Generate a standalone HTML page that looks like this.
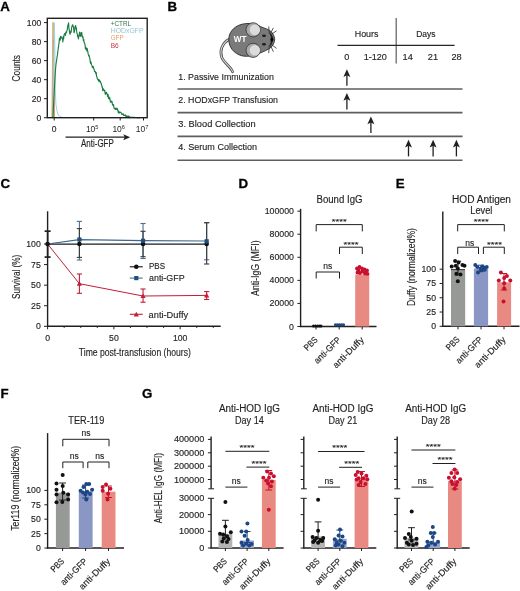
<!DOCTYPE html>
<html><head><meta charset="utf-8"><style>
html,body{margin:0;padding:0;background:#fff;}
svg{display:block;will-change:transform;}
text{font-family:"Liberation Sans",sans-serif;}
</style></head><body>
<svg width="520" height="591" viewBox="0 0 520 591" font-family="Liberation Sans, sans-serif">
<rect width="520" height="591" fill="#fff"/>
<text x="0.3" y="10.6" font-size="13.3" font-weight="bold" fill="#000" stroke="#000" stroke-width="0.3">A</text>
<text x="167.6" y="10.7" font-size="13.3" font-weight="bold" fill="#000" stroke="#000" stroke-width="0.3">B</text>
<text x="0.5" y="188.3" font-size="13.3" font-weight="bold" fill="#000" stroke="#000" stroke-width="0.3">C</text>
<text x="238.4" y="188.2" font-size="13.3" font-weight="bold" fill="#000" stroke="#000" stroke-width="0.3">D</text>
<text x="395.7" y="187.8" font-size="13.3" font-weight="bold" fill="#000" stroke="#000" stroke-width="0.3">E</text>
<text x="0.4" y="397.7" font-size="13.3" font-weight="bold" fill="#000" stroke="#000" stroke-width="0.3">F</text>
<text x="141.9" y="397.8" font-size="13.3" font-weight="bold" fill="#000" stroke="#000" stroke-width="0.3">G</text>
<polyline points="51.90,117.70 52.40,70.00 52.80,22.40 53.30,22.40 53.80,70.00 54.40,117.70" fill="#d8c393" stroke="#d8ad72" stroke-width="1.0" stroke-linejoin="round"/>
<polyline points="52.60,117.70 53.20,70.00 53.60,40.00 54.00,80.00 54.50,117.70" fill="none" stroke="#c06050" stroke-width="0.5" stroke-linejoin="round" opacity="0.5"/>
<polyline points="53.40,117.70 53.90,60.00 54.40,22.80 54.90,50.00 55.30,90.00 55.90,104.00 56.90,110.80 58.50,115.40 61.50,117.20 64.00,117.70" fill="none" stroke="#9fd4e4" stroke-width="1.0" stroke-linejoin="round"/>
<polyline points="53.00,117.70 53.40,108.85 53.80,100.00 54.20,92.50 54.60,85.00 54.95,78.50 55.30,72.00 55.65,68.30 56.00,64.32 56.34,61.72 56.68,60.20 57.02,56.96 57.36,55.38 57.70,52.79 58.04,49.77 58.38,47.97 58.72,44.70 59.06,42.81 59.40,38.51 59.70,38.02 60.00,38.92 60.30,40.11 60.60,36.44 60.97,36.28 61.33,37.46 61.70,38.27 62.10,37.81 62.50,38.18 62.90,41.90 63.27,36.64 63.63,39.04 64.00,35.37 64.36,34.17 64.72,33.50 65.08,33.78 65.44,35.45 65.80,32.10 66.17,33.06 66.53,32.51 66.90,30.54 67.30,29.78 67.70,26.11 68.10,24.56 68.60,22.91 68.90,27.89 69.20,29.68 69.80,33.78 70.10,34.10 70.40,32.64 70.70,31.09 71.00,32.40 71.37,30.44 71.73,26.91 72.10,26.83 72.40,24.91 72.70,24.75 73.15,26.41 73.60,26.77 74.00,32.71 74.40,31.82 74.80,29.09 75.20,26.53 75.65,25.57 76.10,28.75 76.40,27.95 76.70,31.89 77.00,33.49 77.30,33.82 77.67,36.69 78.03,35.75 78.40,38.96 78.80,36.58 79.20,34.58 79.60,32.11 79.90,34.67 80.20,36.01 80.50,34.81 80.80,36.52 81.10,32.50 81.40,33.95 81.70,32.35 82.10,35.92 82.50,37.22 82.80,36.25 83.10,38.10 83.40,40.74 83.73,39.25 84.07,42.53 84.40,42.59 84.73,43.72 85.07,44.81 85.40,49.07 85.75,47.12 86.10,47.89 86.45,48.76 86.80,50.84 87.15,48.34 87.50,50.02 87.83,51.55 88.15,53.93 88.47,54.87 88.80,56.21 89.15,55.45 89.50,57.30 89.85,58.44 90.20,61.68 90.53,63.30 90.85,61.74 91.17,63.18 91.50,64.74 91.85,65.27 92.20,66.70 92.55,67.60 92.90,66.95 93.23,66.46 93.57,68.41 93.90,68.68 94.23,69.84 94.57,71.68 94.90,71.19 95.23,71.46 95.57,72.72 95.90,73.83 96.23,72.49 96.57,76.44 96.90,76.91 97.25,78.45 97.60,79.37 97.95,79.11 98.30,80.34 98.63,79.57 98.97,81.78 99.30,80.02 99.63,80.34 99.97,81.15 100.30,81.28 100.60,82.82 100.90,82.69 101.20,83.40 101.50,84.84 101.80,85.57 102.10,87.41 102.40,87.09 102.74,90.57 103.08,90.06 103.41,88.81 103.75,89.61 104.09,90.38 104.42,90.86 104.76,90.42 105.10,93.46 105.40,94.35 105.70,92.83 106.00,93.28 106.30,92.22 106.60,92.66 106.90,93.90 107.20,94.00 107.50,96.41 107.80,94.38 108.13,94.55 108.47,98.56 108.80,97.70 109.13,96.99 109.47,99.09 109.80,97.90 110.13,100.15 110.47,102.22 110.80,102.26 111.13,102.11 111.47,100.99 111.80,101.82 112.10,101.69 112.40,104.45 112.70,104.17 113.00,105.65 113.30,104.62 113.60,104.82 113.90,107.52 114.24,108.57 114.58,108.52 114.91,108.78 115.25,109.25 115.59,109.39 115.92,107.97 116.26,109.44 116.60,109.28 116.90,108.33 117.20,108.55 117.50,109.67 117.80,109.82 118.10,111.60 118.40,112.78 118.70,111.17 119.00,113.15 119.30,112.58 119.60,112.75 119.90,112.03 120.20,112.02 120.50,112.25 120.80,112.43 121.10,112.66 121.40,113.55 121.70,114.22 122.00,114.34 122.32,113.93 122.63,114.37 122.95,114.76 123.26,113.78 123.58,114.86 123.89,115.42 124.21,115.38 124.52,115.49 124.84,115.22 125.15,114.90 125.47,116.04 125.78,115.47 126.10,116.38 126.40,116.75 126.70,115.93 127.00,116.04 127.30,117.01 127.60,116.76 127.90,115.97 128.20,116.00 128.50,116.14 128.80,117.45 129.10,117.39 129.40,116.43 129.70,117.62 130.00,117.20 130.32,117.22 130.63,117.23 130.95,117.25 131.27,117.27 131.58,117.28 131.90,117.30 132.22,117.32 132.53,117.33 132.85,117.35 133.17,117.37 133.48,117.38 133.80,117.40 134.12,117.42 134.43,117.43 134.75,117.45 135.07,117.47 135.38,117.48 135.70,117.50 136.01,117.51 136.31,117.53 136.62,117.54 136.93,117.56 137.24,117.57 137.54,117.59 137.85,117.60 138.16,117.61 138.46,117.63 138.77,117.64 139.08,117.66 139.39,117.67 139.69,117.69 140.00,117.70" fill="none" stroke="#1b7d43" stroke-width="1.15" stroke-linejoin="round"/>
<rect x="47.3" y="18.3" width="99.90" height="99.40" fill="none" stroke="#231f20" stroke-width="1.4"/>
<line x1="44.00" y1="117.70" x2="47.30" y2="117.70" stroke="#231f20" stroke-width="1.0"/>
<text x="0" y="0" transform="translate(41.20 120.70) scale(1 1.05)" font-size="8.6" fill="#231f20" stroke="#231f20" stroke-width="0.15" text-anchor="end">0</text>
<line x1="44.00" y1="98.68" x2="47.30" y2="98.68" stroke="#231f20" stroke-width="1.0"/>
<text x="0" y="0" transform="translate(41.20 101.68) scale(1 1.05)" font-size="8.6" fill="#231f20" stroke="#231f20" stroke-width="0.15" text-anchor="end">20</text>
<line x1="44.00" y1="79.66" x2="47.30" y2="79.66" stroke="#231f20" stroke-width="1.0"/>
<text x="0" y="0" transform="translate(41.20 82.66) scale(1 1.05)" font-size="8.6" fill="#231f20" stroke="#231f20" stroke-width="0.15" text-anchor="end">40</text>
<line x1="44.00" y1="60.64" x2="47.30" y2="60.64" stroke="#231f20" stroke-width="1.0"/>
<text x="0" y="0" transform="translate(41.20 63.64) scale(1 1.05)" font-size="8.6" fill="#231f20" stroke="#231f20" stroke-width="0.15" text-anchor="end">60</text>
<line x1="44.00" y1="41.62" x2="47.30" y2="41.62" stroke="#231f20" stroke-width="1.0"/>
<text x="0" y="0" transform="translate(41.20 44.62) scale(1 1.05)" font-size="8.6" fill="#231f20" stroke="#231f20" stroke-width="0.15" text-anchor="end">80</text>
<line x1="44.00" y1="22.60" x2="47.30" y2="22.60" stroke="#231f20" stroke-width="1.0"/>
<text x="0" y="0" transform="translate(41.20 25.60) scale(1 1.05)" font-size="8.6" fill="#231f20" stroke="#231f20" stroke-width="0.15" text-anchor="end">100</text>
<line x1="54.20" y1="117.70" x2="54.20" y2="120.50" stroke="#231f20" stroke-width="1.0"/>
<line x1="93.70" y1="117.70" x2="93.70" y2="120.50" stroke="#231f20" stroke-width="1.0"/>
<line x1="120.20" y1="117.70" x2="120.20" y2="120.50" stroke="#231f20" stroke-width="1.0"/>
<line x1="143.50" y1="117.70" x2="143.50" y2="120.50" stroke="#231f20" stroke-width="1.0"/>
<text x="54.20" y="131.80" font-size="8.5" fill="#231f20" stroke="#231f20" stroke-width="0.15" text-anchor="middle">0</text>
<text x="92.20" y="131.8" font-size="8.5" fill="#231f20" text-anchor="middle">10<tspan font-size="5.6" dy="-3.3">5</tspan></text>
<text x="118.70" y="131.8" font-size="8.5" fill="#231f20" text-anchor="middle">10<tspan font-size="5.6" dy="-3.3">6</tspan></text>
<text x="142.00" y="131.8" font-size="8.5" fill="#231f20" text-anchor="middle">10<tspan font-size="5.6" dy="-3.3">7</tspan></text>
<line x1="65.50" y1="137.20" x2="125.50" y2="137.20" stroke="#231f20" stroke-width="1.2"/>
<polygon points="130.2,137.2 123.2,134.2 124.8,137.2 123.2,140.2" fill="#231f20"/>
<text x="81.00" y="146.90" font-size="10.4" fill="#231f20" stroke="#231f20" stroke-width="0.15" textLength="32.8" lengthAdjust="spacingAndGlyphs">Anti-GFP</text>
<text x="0" y="0" transform="translate(19.50 68.20) rotate(-90)" font-size="10.4" fill="#231f20" stroke="#231f20" stroke-width="0.15" text-anchor="middle" textLength="26.4" lengthAdjust="spacingAndGlyphs">Counts</text>
<text x="110.70" y="25.60" font-size="7.4" fill="#2b7a45" textLength="20.5" lengthAdjust="spacingAndGlyphs">+CTRL</text>
<text x="110.70" y="32.90" font-size="7.4" fill="#94c4d8" textLength="33" lengthAdjust="spacingAndGlyphs">HODxGFP</text>
<text x="110.70" y="40.20" font-size="7.4" fill="#e9a062" textLength="13" lengthAdjust="spacingAndGlyphs">GFP</text>
<text x="110.70" y="47.50" font-size="7.4" fill="#cc3344" textLength="8" lengthAdjust="spacingAndGlyphs">B6</text>
<line x1="396.20" y1="18.00" x2="396.20" y2="63.50" stroke="#6a6a6a" stroke-width="1.3"/>
<line x1="337.50" y1="45.40" x2="454.60" y2="45.40" stroke="#262626" stroke-width="1.1"/>
<text x="366.60" y="37.00" font-size="9.2" fill="#231f20" stroke="#231f20" stroke-width="0.15" text-anchor="middle" textLength="23.7" lengthAdjust="spacingAndGlyphs">Hours</text>
<text x="425.80" y="37.00" font-size="9.2" fill="#231f20" stroke="#231f20" stroke-width="0.15" text-anchor="middle" textLength="19.3" lengthAdjust="spacingAndGlyphs">Days</text>
<text x="346.70" y="60.00" font-size="9.2" fill="#231f20" stroke="#231f20" stroke-width="0.15" text-anchor="middle">0</text>
<text x="375.30" y="60.00" font-size="9.2" fill="#231f20" stroke="#231f20" stroke-width="0.15" text-anchor="middle" textLength="23.3" lengthAdjust="spacingAndGlyphs">1-120</text>
<text x="407.70" y="60.00" font-size="9.2" fill="#231f20" stroke="#231f20" stroke-width="0.15" text-anchor="middle">14</text>
<text x="432.90" y="60.00" font-size="9.2" fill="#231f20" stroke="#231f20" stroke-width="0.15" text-anchor="middle">21</text>
<text x="456.50" y="60.00" font-size="9.2" fill="#231f20" stroke="#231f20" stroke-width="0.15" text-anchor="middle">28</text>
<text x="178.30" y="80.00" font-size="9.5" fill="#231f20" stroke="#231f20" stroke-width="0.15" textLength="95.6" lengthAdjust="spacingAndGlyphs">1. Passive Immunization</text>
<line x1="177.50" y1="89.00" x2="462.50" y2="89.00" stroke="#5e5e5e" stroke-width="1.6"/>
<text x="178.30" y="103.40" font-size="9.5" fill="#231f20" stroke="#231f20" stroke-width="0.15" textLength="99.7" lengthAdjust="spacingAndGlyphs">2. HODxGFP Transfusion</text>
<line x1="177.50" y1="112.60" x2="462.50" y2="112.60" stroke="#5e5e5e" stroke-width="1.6"/>
<text x="178.30" y="126.70" font-size="9.5" fill="#231f20" stroke="#231f20" stroke-width="0.15" textLength="77.3" lengthAdjust="spacingAndGlyphs">3. Blood Collection</text>
<line x1="177.50" y1="136.40" x2="462.50" y2="136.40" stroke="#5e5e5e" stroke-width="1.6"/>
<text x="178.30" y="150.10" font-size="9.5" fill="#231f20" stroke="#231f20" stroke-width="0.15" textLength="78.7" lengthAdjust="spacingAndGlyphs">4. Serum Collection</text>
<line x1="177.50" y1="160.20" x2="462.50" y2="160.20" stroke="#5e5e5e" stroke-width="1.6"/>
<line x1="346.90" y1="74.30" x2="346.90" y2="85.80" stroke="#231f20" stroke-width="1.3"/>
<polygon points="346.90,69.30 343.40,77.10 346.90,75.30 350.40,77.10" fill="#231f20"/>
<line x1="346.90" y1="98.00" x2="346.90" y2="109.50" stroke="#231f20" stroke-width="1.3"/>
<polygon points="346.90,93.00 343.40,100.80 346.90,99.00 350.40,100.80" fill="#231f20"/>
<line x1="370.90" y1="121.50" x2="370.90" y2="132.90" stroke="#231f20" stroke-width="1.3"/>
<polygon points="370.90,116.50 367.40,124.30 370.90,122.50 374.40,124.30" fill="#231f20"/>
<line x1="408.50" y1="144.70" x2="408.50" y2="156.40" stroke="#231f20" stroke-width="1.3"/>
<polygon points="408.50,139.70 405.00,147.50 408.50,145.70 412.00,147.50" fill="#231f20"/>
<line x1="433.10" y1="144.70" x2="433.10" y2="156.40" stroke="#231f20" stroke-width="1.3"/>
<polygon points="433.10,139.70 429.60,147.50 433.10,145.70 436.60,147.50" fill="#231f20"/>
<line x1="456.40" y1="144.70" x2="456.40" y2="156.40" stroke="#231f20" stroke-width="1.3"/>
<polygon points="456.40,139.70 452.90,147.50 456.40,145.70 459.90,147.50" fill="#231f20"/>
<g>
<path d="M228.8,39.5 C222.5,43 219.2,50.5 221.8,57.5 C224.2,63.5 230.5,66 232.6,71.8" fill="none" stroke="#4a4a4a" stroke-width="2.7" stroke-linecap="round"/>
<path d="M228.8,39.5 C222.5,43 219.2,50.5 221.8,57.5 C224.2,63.5 230.5,66 232.6,71.8" fill="none" stroke="#d6d6d6" stroke-width="1.1" stroke-linecap="round"/>
<path d="M274.7,39.3 C274.2,34.2 271,30.5 266.5,28.9 C263,27.8 261,26.8 258.5,25.5 C254,23.3 247,22.8 241,24.5 C233,27 228.6,33 228.8,40 C229,47.5 234,53.5 241.5,55.7 C248,57.2 255,55.5 260,53 C263,51.8 265.5,50.8 267,49.8 C271.5,47.8 274.2,44.5 274.7,39.3 Z" fill="#7a7a7a" stroke="#2a2a2a" stroke-width="0.9"/>
<path d="M269.3,32.6 Q277.2,39.3 269.3,46.2 Q272.6,39.3 269.3,32.6 Z" fill="#1c1c1c"/>
<circle cx="253.1" cy="29.8" r="7.1" fill="#a9a9a9" stroke="#333" stroke-width="0.8"/>
<circle cx="254.9" cy="29.8" r="5.2" fill="#dcdcdc"/>
<circle cx="253.1" cy="50.3" r="7.1" fill="#a9a9a9" stroke="#333" stroke-width="0.8"/>
<circle cx="254.9" cy="50.3" r="5.2" fill="#dcdcdc"/>
<ellipse cx="264" cy="35.7" rx="1.9" ry="1.3" fill="#1a1a1a"/>
<ellipse cx="264" cy="44.2" rx="1.9" ry="1.3" fill="#1a1a1a"/>
<circle cx="271.9" cy="39.4" r="1.5" fill="#000"/>
<line x1="269.30" y1="33.50" x2="268.70" y2="26.40" stroke="#222" stroke-width="0.75"/>
<line x1="270.30" y1="33.80" x2="273.40" y2="27.80" stroke="#222" stroke-width="0.75"/>
<line x1="271.20" y1="34.50" x2="276.50" y2="30.80" stroke="#222" stroke-width="0.75"/>
<line x1="269.30" y1="45.30" x2="268.70" y2="53.20" stroke="#222" stroke-width="0.75"/>
<line x1="270.30" y1="45.00" x2="273.40" y2="51.80" stroke="#222" stroke-width="0.75"/>
<line x1="271.20" y1="44.30" x2="276.50" y2="48.40" stroke="#222" stroke-width="0.75"/>
<text x="240.10" y="41.70" font-size="8.4" fill="#fff" text-anchor="middle" font-weight="bold" textLength="12.6" lengthAdjust="spacingAndGlyphs">WT</text>
</g>
<line x1="47.60" y1="211.30" x2="47.60" y2="326.90" stroke="#231f20" stroke-width="1.4"/>
<line x1="47.00" y1="326.30" x2="220.70" y2="326.30" stroke="#231f20" stroke-width="1.4"/>
<line x1="44.00" y1="326.30" x2="47.60" y2="326.30" stroke="#231f20" stroke-width="1.0"/>
<text x="0" y="0" transform="translate(40.80 329.30) scale(1 1.05)" font-size="8.7" fill="#231f20" stroke="#231f20" stroke-width="0.15" text-anchor="end">0</text>
<line x1="44.00" y1="305.73" x2="47.60" y2="305.73" stroke="#231f20" stroke-width="1.0"/>
<text x="0" y="0" transform="translate(40.80 308.73) scale(1 1.05)" font-size="8.7" fill="#231f20" stroke="#231f20" stroke-width="0.15" text-anchor="end">25</text>
<line x1="44.00" y1="285.16" x2="47.60" y2="285.16" stroke="#231f20" stroke-width="1.0"/>
<text x="0" y="0" transform="translate(40.80 288.16) scale(1 1.05)" font-size="8.7" fill="#231f20" stroke="#231f20" stroke-width="0.15" text-anchor="end">50</text>
<line x1="44.00" y1="264.59" x2="47.60" y2="264.59" stroke="#231f20" stroke-width="1.0"/>
<text x="0" y="0" transform="translate(40.80 267.59) scale(1 1.05)" font-size="8.7" fill="#231f20" stroke="#231f20" stroke-width="0.15" text-anchor="end">75</text>
<line x1="44.00" y1="244.02" x2="47.60" y2="244.02" stroke="#231f20" stroke-width="1.0"/>
<text x="0" y="0" transform="translate(40.80 247.02) scale(1 1.05)" font-size="8.7" fill="#231f20" stroke="#231f20" stroke-width="0.15" text-anchor="end">100</text>
<line x1="47.60" y1="326.30" x2="47.60" y2="329.30" stroke="#231f20" stroke-width="1.0"/>
<line x1="64.17" y1="326.30" x2="64.17" y2="327.90" stroke="#231f20" stroke-width="1.0"/>
<line x1="80.74" y1="326.30" x2="80.74" y2="327.90" stroke="#231f20" stroke-width="1.0"/>
<line x1="97.31" y1="326.30" x2="97.31" y2="327.90" stroke="#231f20" stroke-width="1.0"/>
<line x1="113.88" y1="326.30" x2="113.88" y2="329.30" stroke="#231f20" stroke-width="1.0"/>
<line x1="130.44" y1="326.30" x2="130.44" y2="327.90" stroke="#231f20" stroke-width="1.0"/>
<line x1="147.01" y1="326.30" x2="147.01" y2="327.90" stroke="#231f20" stroke-width="1.0"/>
<line x1="163.58" y1="326.30" x2="163.58" y2="327.90" stroke="#231f20" stroke-width="1.0"/>
<line x1="180.15" y1="326.30" x2="180.15" y2="329.30" stroke="#231f20" stroke-width="1.0"/>
<line x1="196.72" y1="326.30" x2="196.72" y2="327.90" stroke="#231f20" stroke-width="1.0"/>
<line x1="213.29" y1="326.30" x2="213.29" y2="327.90" stroke="#231f20" stroke-width="1.0"/>
<text x="0" y="0" transform="translate(47.60 341.00) scale(1 1.05)" font-size="8.7" fill="#231f20" stroke="#231f20" stroke-width="0.15" text-anchor="middle">0</text>
<text x="0" y="0" transform="translate(113.88 341.00) scale(1 1.05)" font-size="8.7" fill="#231f20" stroke="#231f20" stroke-width="0.15" text-anchor="middle">50</text>
<text x="0" y="0" transform="translate(180.15 341.00) scale(1 1.05)" font-size="8.7" fill="#231f20" stroke="#231f20" stroke-width="0.15" text-anchor="middle">100</text>
<text x="78.80" y="355.50" font-size="10.8" fill="#231f20" stroke="#231f20" stroke-width="0.15" textLength="112.0" lengthAdjust="spacingAndGlyphs">Time post-transfusion (hours)</text>
<text x="0" y="0" transform="translate(19.90 276.80) rotate(-90)" font-size="10.4" fill="#231f20" stroke="#231f20" stroke-width="0.15" text-anchor="middle" textLength="44.2" lengthAdjust="spacingAndGlyphs">Survival (%)</text>
<line x1="47.60" y1="231.20" x2="47.60" y2="257.10" stroke="#4d6f94" stroke-width="1.1"/>
<line x1="45.00" y1="231.20" x2="50.20" y2="231.20" stroke="#4d6f94" stroke-width="1.1"/>
<line x1="45.00" y1="257.10" x2="50.20" y2="257.10" stroke="#4d6f94" stroke-width="1.1"/>
<line x1="79.41" y1="221.40" x2="79.41" y2="260.00" stroke="#4d6f94" stroke-width="1.1"/>
<line x1="76.81" y1="221.40" x2="82.01" y2="221.40" stroke="#4d6f94" stroke-width="1.1"/>
<line x1="76.81" y1="260.00" x2="82.01" y2="260.00" stroke="#4d6f94" stroke-width="1.1"/>
<line x1="143.04" y1="223.50" x2="143.04" y2="258.50" stroke="#4d6f94" stroke-width="1.1"/>
<line x1="140.44" y1="223.50" x2="145.64" y2="223.50" stroke="#4d6f94" stroke-width="1.1"/>
<line x1="140.44" y1="258.50" x2="145.64" y2="258.50" stroke="#4d6f94" stroke-width="1.1"/>
<line x1="206.66" y1="222.70" x2="206.66" y2="259.80" stroke="#4d6f94" stroke-width="1.1"/>
<line x1="204.06" y1="222.70" x2="209.26" y2="222.70" stroke="#4d6f94" stroke-width="1.1"/>
<line x1="204.06" y1="259.80" x2="209.26" y2="259.80" stroke="#4d6f94" stroke-width="1.1"/>
<line x1="47.60" y1="231.20" x2="47.60" y2="257.10" stroke="#231f20" stroke-width="1.6"/>
<line x1="44.60" y1="231.20" x2="50.60" y2="231.20" stroke="#231f20" stroke-width="1.6"/>
<line x1="44.60" y1="257.10" x2="50.60" y2="257.10" stroke="#231f20" stroke-width="1.6"/>
<line x1="79.41" y1="228.60" x2="79.41" y2="257.40" stroke="#3a3a3a" stroke-width="1.1"/>
<line x1="76.81" y1="228.60" x2="82.01" y2="228.60" stroke="#3a3a3a" stroke-width="1.1"/>
<line x1="76.81" y1="257.40" x2="82.01" y2="257.40" stroke="#3a3a3a" stroke-width="1.1"/>
<line x1="143.04" y1="231.30" x2="143.04" y2="256.70" stroke="#3a3a3a" stroke-width="1.1"/>
<line x1="140.44" y1="231.30" x2="145.64" y2="231.30" stroke="#3a3a3a" stroke-width="1.1"/>
<line x1="140.44" y1="256.70" x2="145.64" y2="256.70" stroke="#3a3a3a" stroke-width="1.1"/>
<line x1="206.66" y1="222.70" x2="206.66" y2="264.00" stroke="#3a3a3a" stroke-width="1.1"/>
<line x1="204.06" y1="222.70" x2="209.26" y2="222.70" stroke="#3a3a3a" stroke-width="1.1"/>
<line x1="204.06" y1="264.00" x2="209.26" y2="264.00" stroke="#3a3a3a" stroke-width="1.1"/>
<line x1="79.41" y1="274.00" x2="79.41" y2="293.30" stroke="#c01f38" stroke-width="1.1"/>
<line x1="76.81" y1="274.00" x2="82.01" y2="274.00" stroke="#c01f38" stroke-width="1.1"/>
<line x1="76.81" y1="293.30" x2="82.01" y2="293.30" stroke="#c01f38" stroke-width="1.1"/>
<line x1="143.04" y1="289.00" x2="143.04" y2="302.20" stroke="#c01f38" stroke-width="1.1"/>
<line x1="140.44" y1="289.00" x2="145.64" y2="289.00" stroke="#c01f38" stroke-width="1.1"/>
<line x1="140.44" y1="302.20" x2="145.64" y2="302.20" stroke="#c01f38" stroke-width="1.1"/>
<line x1="206.66" y1="291.60" x2="206.66" y2="299.50" stroke="#c01f38" stroke-width="1.1"/>
<line x1="204.06" y1="291.60" x2="209.26" y2="291.60" stroke="#c01f38" stroke-width="1.1"/>
<line x1="204.06" y1="299.50" x2="209.26" y2="299.50" stroke="#c01f38" stroke-width="1.1"/>
<polyline points="47.60,244.10 79.41,244.10 143.04,244.10 206.66,244.10" fill="none" stroke="#1a1a1a" stroke-width="1.2" stroke-linejoin="round"/>
<polyline points="47.60,244.00 79.41,239.60 143.04,240.70 206.66,241.00" fill="none" stroke="#3e6890" stroke-width="1.2" stroke-linejoin="round"/>
<polyline points="47.60,244.00 79.41,283.70 143.04,296.00 206.66,295.40" fill="none" stroke="#c01f38" stroke-width="1.0" stroke-linejoin="round"/>
<circle cx="47.60" cy="244" r="2.3" fill="#111"/>
<circle cx="79.41" cy="244" r="2.3" fill="#111"/>
<circle cx="143.04" cy="244" r="2.3" fill="#111"/>
<circle cx="206.66" cy="244" r="2.3" fill="#111"/>
<rect x="77.31" y="237.40" width="4.2" height="4.2" fill="#1f4e80"/>
<rect x="140.94" y="238.70" width="4.2" height="4.2" fill="#1f4e80"/>
<rect x="204.56" y="239.20" width="4.2" height="4.2" fill="#1f4e80"/>
<polygon points="79.41,281.10 76.81,285.78 82.01,285.78" fill="#c01f38"/>
<polygon points="143.04,293.40 140.44,298.08 145.64,298.08" fill="#c01f38"/>
<polygon points="206.66,292.80 204.06,297.48 209.26,297.48" fill="#c01f38"/>
<line x1="129.80" y1="266.80" x2="142.70" y2="266.80" stroke="#111" stroke-width="1.1"/>
<circle cx="136.3" cy="266.8" r="2.3" fill="#111"/>
<text x="149.00" y="268.70" font-size="9.3" fill="#231f20" stroke="#231f20" stroke-width="0.15" textLength="16" lengthAdjust="spacingAndGlyphs">PBS</text>
<line x1="129.80" y1="278.10" x2="142.70" y2="278.10" stroke="#4d6f94" stroke-width="1.1"/>
<rect x="134.2" y="276.0" width="4.2" height="4.2" fill="#1f4e80"/>
<text x="149.00" y="281.20" font-size="9.3" fill="#231f20" stroke="#231f20" stroke-width="0.15" textLength="35.6" lengthAdjust="spacingAndGlyphs">anti-GFP</text>
<line x1="129.80" y1="314.30" x2="142.70" y2="314.30" stroke="#c01f38" stroke-width="1.1"/>
<polygon points="136.30,311.70 133.70,316.38 138.90,316.38" fill="#c01f38"/>
<text x="148.60" y="318.00" font-size="9.3" fill="#231f20" stroke="#231f20" stroke-width="0.15" textLength="39.5" lengthAdjust="spacingAndGlyphs">anti-Duffy</text>
<line x1="300.60" y1="208.80" x2="300.60" y2="327.10" stroke="#231f20" stroke-width="1.4"/>
<line x1="300.00" y1="326.50" x2="376.50" y2="326.50" stroke="#231f20" stroke-width="1.4"/>
<line x1="297.40" y1="326.50" x2="300.60" y2="326.50" stroke="#231f20" stroke-width="1.0"/>
<text x="0" y="0" transform="translate(294.00 329.50) scale(1 1.03)" font-size="8.8" fill="#231f20" stroke="#231f20" stroke-width="0.15" text-anchor="end">0</text>
<line x1="297.40" y1="303.43" x2="300.60" y2="303.43" stroke="#231f20" stroke-width="1.0"/>
<text x="0" y="0" transform="translate(294.00 306.43) scale(1 1.03)" font-size="8.8" fill="#231f20" stroke="#231f20" stroke-width="0.15" text-anchor="end">20000</text>
<line x1="297.40" y1="280.36" x2="300.60" y2="280.36" stroke="#231f20" stroke-width="1.0"/>
<text x="0" y="0" transform="translate(294.00 283.36) scale(1 1.03)" font-size="8.8" fill="#231f20" stroke="#231f20" stroke-width="0.15" text-anchor="end">40000</text>
<line x1="297.40" y1="257.29" x2="300.60" y2="257.29" stroke="#231f20" stroke-width="1.0"/>
<text x="0" y="0" transform="translate(294.00 260.29) scale(1 1.03)" font-size="8.8" fill="#231f20" stroke="#231f20" stroke-width="0.15" text-anchor="end">60000</text>
<line x1="297.40" y1="234.22" x2="300.60" y2="234.22" stroke="#231f20" stroke-width="1.0"/>
<text x="0" y="0" transform="translate(294.00 237.22) scale(1 1.03)" font-size="8.8" fill="#231f20" stroke="#231f20" stroke-width="0.15" text-anchor="end">80000</text>
<line x1="297.40" y1="211.15" x2="300.60" y2="211.15" stroke="#231f20" stroke-width="1.0"/>
<text x="0" y="0" transform="translate(294.00 214.15) scale(1 1.03)" font-size="8.8" fill="#231f20" stroke="#231f20" stroke-width="0.15" text-anchor="end">100000</text>
<line x1="316.00" y1="326.50" x2="316.00" y2="329.50" stroke="#231f20" stroke-width="1.0"/>
<line x1="339.20" y1="326.50" x2="339.20" y2="329.50" stroke="#231f20" stroke-width="1.0"/>
<line x1="362.20" y1="326.50" x2="362.20" y2="329.50" stroke="#231f20" stroke-width="1.0"/>
<rect x="355.2" y="274.5" width="14" height="52.00" fill="#e98a82"/>
<circle cx="313.50" cy="326.00" r="1.5" fill="#111"/>
<circle cx="315.50" cy="326.00" r="1.5" fill="#111"/>
<circle cx="317.50" cy="326.00" r="1.5" fill="#111"/>
<circle cx="319.50" cy="326.00" r="1.5" fill="#111"/>
<circle cx="321.00" cy="326.00" r="1.5" fill="#111"/>
<circle cx="335.50" cy="324.80" r="1.6" fill="#1d4683"/>
<circle cx="337.50" cy="324.80" r="1.6" fill="#1d4683"/>
<circle cx="339.50" cy="324.80" r="1.6" fill="#1d4683"/>
<circle cx="341.50" cy="324.80" r="1.6" fill="#1d4683"/>
<circle cx="343.50" cy="324.80" r="1.6" fill="#1d4683"/>
<circle cx="357.00" cy="268.50" r="1.9" fill="#c8102e"/>
<circle cx="359.50" cy="267.00" r="1.9" fill="#c8102e"/>
<circle cx="362.00" cy="268.50" r="1.9" fill="#c8102e"/>
<circle cx="364.50" cy="269.50" r="1.9" fill="#c8102e"/>
<circle cx="367.00" cy="270.50" r="1.9" fill="#c8102e"/>
<circle cx="357.50" cy="272.50" r="1.9" fill="#c8102e"/>
<circle cx="360.00" cy="273.00" r="1.9" fill="#c8102e"/>
<circle cx="362.50" cy="271.50" r="1.9" fill="#c8102e"/>
<circle cx="365.00" cy="273.50" r="1.9" fill="#c8102e"/>
<circle cx="367.50" cy="273.80" r="1.9" fill="#c8102e"/>
<circle cx="358.50" cy="270.50" r="1.9" fill="#c8102e"/>
<circle cx="366.00" cy="271.00" r="1.9" fill="#c8102e"/>
<polyline points="316.20,231.40 316.20,224.60 362.30,224.60 362.30,231.40" fill="none" stroke="#231f20" stroke-width="1.0"/>
<text x="339.20" y="224.00" font-size="8.0" fill="#231f20" stroke="#231f20" stroke-width="0.15" text-anchor="middle" textLength="15.0" lengthAdjust="spacingAndGlyphs">****</text>
<polyline points="339.50,254.00 339.50,247.20 362.30,247.20 362.30,254.00" fill="none" stroke="#231f20" stroke-width="1.0"/>
<text x="350.90" y="246.60" font-size="8.0" fill="#231f20" stroke="#231f20" stroke-width="0.15" text-anchor="middle" textLength="15.0" lengthAdjust="spacingAndGlyphs">****</text>
<polyline points="316.20,278.50 316.20,272.00 339.50,272.00 339.50,278.50" fill="none" stroke="#231f20" stroke-width="1.0"/>
<text x="327.80" y="268.70" font-size="8.5" fill="#231f20" stroke="#231f20" stroke-width="0.15" text-anchor="middle">ns</text>
<text x="339.50" y="202.90" font-size="10.0" fill="#231f20" stroke="#231f20" stroke-width="0.15" text-anchor="middle" textLength="46" lengthAdjust="spacingAndGlyphs">Bound IgG</text>
<text x="0" y="0" transform="translate(259.30 268.20) rotate(-90)" font-size="10.4" fill="#231f20" stroke="#231f20" stroke-width="0.15" text-anchor="middle" textLength="55.5" lengthAdjust="spacingAndGlyphs">Anti-IgG (MFI)</text>
<text x="0" y="0" transform="translate(318.30 340.40) rotate(-45)" font-size="9.1" fill="#231f20" stroke="#231f20" stroke-width="0.15" text-anchor="end" textLength="15.2" lengthAdjust="spacingAndGlyphs">PBS</text>
<text x="0" y="0" transform="translate(341.50 340.40) rotate(-45)" font-size="9.1" fill="#231f20" stroke="#231f20" stroke-width="0.15" text-anchor="end" textLength="33.9" lengthAdjust="spacingAndGlyphs">anti-GFP</text>
<text x="0" y="0" transform="translate(364.50 340.40) rotate(-45)" font-size="9.1" fill="#231f20" stroke="#231f20" stroke-width="0.15" text-anchor="end" textLength="40.0" lengthAdjust="spacingAndGlyphs">anti-Duffy</text>
<line x1="442.80" y1="211.40" x2="442.80" y2="326.90" stroke="#231f20" stroke-width="1.4"/>
<line x1="442.20" y1="326.30" x2="519.50" y2="326.30" stroke="#231f20" stroke-width="1.4"/>
<line x1="439.60" y1="326.30" x2="442.80" y2="326.30" stroke="#231f20" stroke-width="1.0"/>
<text x="0" y="0" transform="translate(436.00 329.30) scale(1 1.05)" font-size="8.7" fill="#231f20" stroke="#231f20" stroke-width="0.15" text-anchor="end">0</text>
<line x1="439.60" y1="312.03" x2="442.80" y2="312.03" stroke="#231f20" stroke-width="1.0"/>
<text x="0" y="0" transform="translate(436.00 315.03) scale(1 1.05)" font-size="8.7" fill="#231f20" stroke="#231f20" stroke-width="0.15" text-anchor="end">25</text>
<line x1="439.60" y1="297.75" x2="442.80" y2="297.75" stroke="#231f20" stroke-width="1.0"/>
<text x="0" y="0" transform="translate(436.00 300.75) scale(1 1.05)" font-size="8.7" fill="#231f20" stroke="#231f20" stroke-width="0.15" text-anchor="end">50</text>
<line x1="439.60" y1="283.48" x2="442.80" y2="283.48" stroke="#231f20" stroke-width="1.0"/>
<text x="0" y="0" transform="translate(436.00 286.48) scale(1 1.05)" font-size="8.7" fill="#231f20" stroke="#231f20" stroke-width="0.15" text-anchor="end">75</text>
<line x1="439.60" y1="269.20" x2="442.80" y2="269.20" stroke="#231f20" stroke-width="1.0"/>
<text x="0" y="0" transform="translate(436.00 272.20) scale(1 1.05)" font-size="8.7" fill="#231f20" stroke="#231f20" stroke-width="0.15" text-anchor="end">100</text>
<line x1="458.00" y1="326.30" x2="458.00" y2="329.30" stroke="#231f20" stroke-width="1.0"/>
<line x1="481.00" y1="326.30" x2="481.00" y2="329.30" stroke="#231f20" stroke-width="1.0"/>
<line x1="504.00" y1="326.30" x2="504.00" y2="329.30" stroke="#231f20" stroke-width="1.0"/>
<rect x="451.0" y="269.6" width="14.2" height="56.70" fill="#979997"/>
<rect x="473.9" y="268.6" width="14.2" height="57.70" fill="#8a96c4"/>
<rect x="497.1" y="282.3" width="14.0" height="44.00" fill="#e98a82"/>
<line x1="458.00" y1="261.20" x2="458.00" y2="275.00" stroke="#231f20" stroke-width="1.0"/>
<line x1="454.80" y1="261.20" x2="461.20" y2="261.20" stroke="#231f20" stroke-width="1.0"/>
<line x1="454.80" y1="275.00" x2="461.20" y2="275.00" stroke="#231f20" stroke-width="1.0"/>
<line x1="481.00" y1="265.20" x2="481.00" y2="271.00" stroke="#1d4683" stroke-width="1.0"/>
<line x1="477.80" y1="265.20" x2="484.20" y2="265.20" stroke="#1d4683" stroke-width="1.0"/>
<line x1="477.80" y1="271.00" x2="484.20" y2="271.00" stroke="#1d4683" stroke-width="1.0"/>
<line x1="504.00" y1="273.50" x2="504.00" y2="290.00" stroke="#c8102e" stroke-width="1.0"/>
<line x1="500.80" y1="273.50" x2="507.20" y2="273.50" stroke="#c8102e" stroke-width="1.0"/>
<line x1="500.80" y1="290.00" x2="507.20" y2="290.00" stroke="#c8102e" stroke-width="1.0"/>
<line x1="451.00" y1="269.60" x2="465.00" y2="269.60" stroke="#231f20" stroke-width="0.9"/>
<circle cx="455.10" cy="261.10" r="2.0" fill="#111"/>
<circle cx="458.50" cy="262.40" r="2.0" fill="#111"/>
<circle cx="451.70" cy="266.40" r="2.0" fill="#111"/>
<circle cx="455.80" cy="265.80" r="2.0" fill="#111"/>
<circle cx="462.50" cy="265.10" r="2.0" fill="#111"/>
<circle cx="464.50" cy="265.80" r="2.0" fill="#111"/>
<circle cx="457.80" cy="268.50" r="2.0" fill="#111"/>
<circle cx="456.40" cy="273.80" r="2.0" fill="#111"/>
<circle cx="460.50" cy="274.50" r="2.0" fill="#111"/>
<circle cx="457.80" cy="281.20" r="2.0" fill="#111"/>
<circle cx="475.30" cy="265.10" r="2.0" fill="#1d4683"/>
<circle cx="477.30" cy="267.10" r="2.0" fill="#1d4683"/>
<circle cx="480.70" cy="268.50" r="2.0" fill="#1d4683"/>
<circle cx="484.00" cy="267.80" r="2.0" fill="#1d4683"/>
<circle cx="486.70" cy="267.10" r="2.0" fill="#1d4683"/>
<circle cx="478.00" cy="272.50" r="2.0" fill="#1d4683"/>
<circle cx="481.30" cy="270.50" r="2.0" fill="#1d4683"/>
<circle cx="484.70" cy="269.80" r="2.0" fill="#1d4683"/>
<circle cx="482.50" cy="266.50" r="2.0" fill="#1d4683"/>
<circle cx="500.90" cy="272.50" r="2.0" fill="#c8102e"/>
<circle cx="506.90" cy="275.90" r="2.0" fill="#c8102e"/>
<circle cx="504.20" cy="277.90" r="2.0" fill="#c8102e"/>
<circle cx="498.80" cy="280.60" r="2.0" fill="#c8102e"/>
<circle cx="510.30" cy="280.60" r="2.0" fill="#c8102e"/>
<circle cx="504.20" cy="283.30" r="2.0" fill="#c8102e"/>
<circle cx="504.20" cy="288.60" r="2.0" fill="#c8102e"/>
<circle cx="503.50" cy="301.40" r="2.0" fill="#c8102e"/>
<polyline points="457.70,231.40 457.70,224.60 504.30,224.60 504.30,231.40" fill="none" stroke="#231f20" stroke-width="1.0"/>
<text x="481.30" y="224.00" font-size="8.0" fill="#231f20" stroke="#231f20" stroke-width="0.15" text-anchor="middle" textLength="15.0" lengthAdjust="spacingAndGlyphs">****</text>
<polyline points="457.70,254.00 457.70,247.20 478.50,247.20 478.50,254.00" fill="none" stroke="#231f20" stroke-width="1.0"/>
<text x="469.80" y="245.50" font-size="8.5" fill="#231f20" stroke="#231f20" stroke-width="0.15" text-anchor="middle">ns</text>
<polyline points="483.40,254.00 483.40,247.20 504.30,247.20 504.30,254.00" fill="none" stroke="#231f20" stroke-width="1.0"/>
<text x="494.50" y="246.60" font-size="8.0" fill="#231f20" stroke="#231f20" stroke-width="0.15" text-anchor="middle" textLength="15.0" lengthAdjust="spacingAndGlyphs">****</text>
<text x="481.50" y="202.80" font-size="10.0" fill="#231f20" stroke="#231f20" stroke-width="0.15" text-anchor="middle" textLength="59" lengthAdjust="spacingAndGlyphs">HOD Antigen</text>
<text x="481.30" y="213.60" font-size="10.0" fill="#231f20" stroke="#231f20" stroke-width="0.15" text-anchor="middle" textLength="22" lengthAdjust="spacingAndGlyphs">Level</text>
<text x="0" y="0" transform="translate(414.80 267.00) rotate(-90)" font-size="10.4" fill="#231f20" stroke="#231f20" stroke-width="0.15" text-anchor="middle" textLength="78" lengthAdjust="spacingAndGlyphs">Duffy (normalized%)</text>
<text x="0" y="0" transform="translate(460.30 340.20) rotate(-45)" font-size="9.1" fill="#231f20" stroke="#231f20" stroke-width="0.15" text-anchor="end" textLength="15.2" lengthAdjust="spacingAndGlyphs">PBS</text>
<text x="0" y="0" transform="translate(483.30 340.20) rotate(-45)" font-size="9.1" fill="#231f20" stroke="#231f20" stroke-width="0.15" text-anchor="end" textLength="33.9" lengthAdjust="spacingAndGlyphs">anti-GFP</text>
<text x="0" y="0" transform="translate(506.30 340.20) rotate(-45)" font-size="9.1" fill="#231f20" stroke="#231f20" stroke-width="0.15" text-anchor="end" textLength="40.0" lengthAdjust="spacingAndGlyphs">anti-Duffy</text>
<line x1="47.60" y1="433.10" x2="47.60" y2="548.60" stroke="#231f20" stroke-width="1.4"/>
<line x1="47.00" y1="548.00" x2="124.00" y2="548.00" stroke="#231f20" stroke-width="1.4"/>
<line x1="44.40" y1="548.00" x2="47.60" y2="548.00" stroke="#231f20" stroke-width="1.0"/>
<text x="0" y="0" transform="translate(40.80 551.00) scale(1 1.05)" font-size="8.7" fill="#231f20" stroke="#231f20" stroke-width="0.15" text-anchor="end">0</text>
<line x1="44.40" y1="533.60" x2="47.60" y2="533.60" stroke="#231f20" stroke-width="1.0"/>
<text x="0" y="0" transform="translate(40.80 536.60) scale(1 1.05)" font-size="8.7" fill="#231f20" stroke="#231f20" stroke-width="0.15" text-anchor="end">25</text>
<line x1="44.40" y1="519.20" x2="47.60" y2="519.20" stroke="#231f20" stroke-width="1.0"/>
<text x="0" y="0" transform="translate(40.80 522.20) scale(1 1.05)" font-size="8.7" fill="#231f20" stroke="#231f20" stroke-width="0.15" text-anchor="end">50</text>
<line x1="44.40" y1="504.80" x2="47.60" y2="504.80" stroke="#231f20" stroke-width="1.0"/>
<text x="0" y="0" transform="translate(40.80 507.80) scale(1 1.05)" font-size="8.7" fill="#231f20" stroke="#231f20" stroke-width="0.15" text-anchor="end">75</text>
<line x1="44.40" y1="490.40" x2="47.60" y2="490.40" stroke="#231f20" stroke-width="1.0"/>
<text x="0" y="0" transform="translate(40.80 493.40) scale(1 1.05)" font-size="8.7" fill="#231f20" stroke="#231f20" stroke-width="0.15" text-anchor="end">100</text>
<line x1="62.60" y1="548.00" x2="62.60" y2="551.00" stroke="#231f20" stroke-width="1.0"/>
<line x1="85.60" y1="548.00" x2="85.60" y2="551.00" stroke="#231f20" stroke-width="1.0"/>
<line x1="108.50" y1="548.00" x2="108.50" y2="551.00" stroke="#231f20" stroke-width="1.0"/>
<rect x="55.9" y="492.7" width="13.8" height="55.30" fill="#979997"/>
<rect x="78.8" y="491.3" width="13.8" height="56.70" fill="#8a96c4"/>
<rect x="101.7" y="491.7" width="13.8" height="56.30" fill="#e98a82"/>
<line x1="62.60" y1="483.00" x2="62.60" y2="500.00" stroke="#231f20" stroke-width="1.0"/>
<line x1="59.20" y1="483.00" x2="66.00" y2="483.00" stroke="#231f20" stroke-width="1.0"/>
<line x1="59.20" y1="500.00" x2="66.00" y2="500.00" stroke="#231f20" stroke-width="1.0"/>
<line x1="85.60" y1="485.00" x2="85.60" y2="498.00" stroke="#1d4683" stroke-width="1.0"/>
<line x1="82.20" y1="485.00" x2="89.00" y2="485.00" stroke="#1d4683" stroke-width="1.0"/>
<line x1="82.20" y1="498.00" x2="89.00" y2="498.00" stroke="#1d4683" stroke-width="1.0"/>
<line x1="108.50" y1="486.00" x2="108.50" y2="497.50" stroke="#c8102e" stroke-width="1.0"/>
<line x1="105.10" y1="486.00" x2="111.90" y2="486.00" stroke="#c8102e" stroke-width="1.0"/>
<line x1="105.10" y1="497.50" x2="111.90" y2="497.50" stroke="#c8102e" stroke-width="1.0"/>
<circle cx="62.70" cy="475.00" r="2.0" fill="#111"/>
<circle cx="56.50" cy="483.50" r="2.0" fill="#111"/>
<circle cx="62.70" cy="486.00" r="2.0" fill="#111"/>
<circle cx="56.50" cy="489.80" r="2.0" fill="#111"/>
<circle cx="68.10" cy="494.60" r="2.0" fill="#111"/>
<circle cx="63.30" cy="492.70" r="2.0" fill="#111"/>
<circle cx="56.50" cy="494.60" r="2.0" fill="#111"/>
<circle cx="68.10" cy="499.40" r="2.0" fill="#111"/>
<circle cx="56.50" cy="502.30" r="2.0" fill="#111"/>
<circle cx="62.30" cy="501.90" r="2.0" fill="#111"/>
<circle cx="86.30" cy="484.00" r="2.0" fill="#1d4683"/>
<circle cx="89.20" cy="484.00" r="2.0" fill="#1d4683"/>
<circle cx="83.50" cy="486.90" r="2.0" fill="#1d4683"/>
<circle cx="80.60" cy="490.80" r="2.0" fill="#1d4683"/>
<circle cx="92.10" cy="489.80" r="2.0" fill="#1d4683"/>
<circle cx="87.30" cy="491.70" r="2.0" fill="#1d4683"/>
<circle cx="85.40" cy="494.60" r="2.0" fill="#1d4683"/>
<circle cx="86.30" cy="499.40" r="2.0" fill="#1d4683"/>
<circle cx="83.00" cy="492.50" r="2.0" fill="#1d4683"/>
<circle cx="90.00" cy="494.00" r="2.0" fill="#1d4683"/>
<circle cx="106.00" cy="484.60" r="2.0" fill="#c8102e"/>
<circle cx="102.70" cy="486.90" r="2.0" fill="#c8102e"/>
<circle cx="110.40" cy="488.80" r="2.0" fill="#c8102e"/>
<circle cx="102.70" cy="490.80" r="2.0" fill="#c8102e"/>
<circle cx="108.10" cy="493.70" r="2.0" fill="#c8102e"/>
<circle cx="107.50" cy="499.40" r="2.0" fill="#c8102e"/>
<polyline points="62.80,446.30 62.80,439.30 109.00,439.30 109.00,446.30" fill="none" stroke="#231f20" stroke-width="1.0"/>
<text x="86.00" y="435.90" font-size="8.5" fill="#231f20" stroke="#231f20" stroke-width="0.15" text-anchor="middle">ns</text>
<polyline points="62.80,468.20 62.80,462.00 83.10,462.00 83.10,468.20" fill="none" stroke="#231f20" stroke-width="1.0"/>
<text x="74.30" y="458.50" font-size="8.5" fill="#231f20" stroke="#231f20" stroke-width="0.15" text-anchor="middle">ns</text>
<polyline points="87.80,468.20 87.80,462.00 109.00,462.00 109.00,468.20" fill="none" stroke="#231f20" stroke-width="1.0"/>
<text x="99.80" y="458.50" font-size="8.5" fill="#231f20" stroke="#231f20" stroke-width="0.15" text-anchor="middle">ns</text>
<text x="86.30" y="423.80" font-size="10.0" fill="#231f20" stroke="#231f20" stroke-width="0.15" text-anchor="middle" textLength="36" lengthAdjust="spacingAndGlyphs">TER-119</text>
<text x="0" y="0" transform="translate(19.10 488.30) rotate(-90)" font-size="10.4" fill="#231f20" stroke="#231f20" stroke-width="0.15" text-anchor="middle" textLength="85" lengthAdjust="spacingAndGlyphs">Ter119 (normalized%)</text>
<text x="0" y="0" transform="translate(64.90 561.90) rotate(-45)" font-size="9.1" fill="#231f20" stroke="#231f20" stroke-width="0.15" text-anchor="end" textLength="15.2" lengthAdjust="spacingAndGlyphs">PBS</text>
<text x="0" y="0" transform="translate(87.90 561.90) rotate(-45)" font-size="9.1" fill="#231f20" stroke="#231f20" stroke-width="0.15" text-anchor="end" textLength="33.9" lengthAdjust="spacingAndGlyphs">anti-GFP</text>
<text x="0" y="0" transform="translate(110.80 561.90) rotate(-45)" font-size="9.1" fill="#231f20" stroke="#231f20" stroke-width="0.15" text-anchor="end" textLength="40.0" lengthAdjust="spacingAndGlyphs">anti-Duffy</text>
<text x="0" y="0" transform="translate(204.30 442.40) scale(1 1.05)" font-size="9.1" fill="#231f20" stroke="#231f20" stroke-width="0.15" text-anchor="end">400000</text>
<text x="0" y="0" transform="translate(204.30 455.80) scale(1 1.05)" font-size="9.1" fill="#231f20" stroke="#231f20" stroke-width="0.15" text-anchor="end">300000</text>
<text x="0" y="0" transform="translate(204.30 469.20) scale(1 1.05)" font-size="9.1" fill="#231f20" stroke="#231f20" stroke-width="0.15" text-anchor="end">200000</text>
<text x="0" y="0" transform="translate(204.30 482.50) scale(1 1.05)" font-size="9.1" fill="#231f20" stroke="#231f20" stroke-width="0.15" text-anchor="end">100000</text>
<text x="0" y="0" transform="translate(204.30 501.30) scale(1 1.05)" font-size="9.1" fill="#231f20" stroke="#231f20" stroke-width="0.15" text-anchor="end">30000</text>
<text x="0" y="0" transform="translate(204.30 517.60) scale(1 1.05)" font-size="9.1" fill="#231f20" stroke="#231f20" stroke-width="0.15" text-anchor="end">20000</text>
<text x="0" y="0" transform="translate(204.30 534.30) scale(1 1.05)" font-size="9.1" fill="#231f20" stroke="#231f20" stroke-width="0.15" text-anchor="end">10000</text>
<text x="0" y="0" transform="translate(204.30 551.00) scale(1 1.05)" font-size="9.1" fill="#231f20" stroke="#231f20" stroke-width="0.15" text-anchor="end">0</text>
<text x="0" y="0" transform="translate(161.50 488.10) rotate(-90)" font-size="10.2" fill="#231f20" stroke="#231f20" stroke-width="0.15" text-anchor="middle" textLength="70.4" lengthAdjust="spacingAndGlyphs">Anti-HEL IgG (MFI)</text>
<line x1="211.10" y1="436.60" x2="211.10" y2="488.80" stroke="#231f20" stroke-width="1.4"/>
<line x1="208.30" y1="488.80" x2="214.10" y2="488.80" stroke="#231f20" stroke-width="1.0"/>
<line x1="207.90" y1="439.40" x2="211.10" y2="439.40" stroke="#231f20" stroke-width="1.0"/>
<line x1="207.90" y1="452.80" x2="211.10" y2="452.80" stroke="#231f20" stroke-width="1.0"/>
<line x1="207.90" y1="466.20" x2="211.10" y2="466.20" stroke="#231f20" stroke-width="1.0"/>
<line x1="207.90" y1="479.50" x2="211.10" y2="479.50" stroke="#231f20" stroke-width="1.0"/>
<line x1="211.10" y1="498.30" x2="211.10" y2="548.60" stroke="#231f20" stroke-width="1.4"/>
<line x1="207.90" y1="498.30" x2="214.10" y2="498.30" stroke="#231f20" stroke-width="1.0"/>
<line x1="207.90" y1="514.60" x2="211.10" y2="514.60" stroke="#231f20" stroke-width="1.0"/>
<line x1="207.90" y1="531.30" x2="211.10" y2="531.30" stroke="#231f20" stroke-width="1.0"/>
<line x1="207.90" y1="548.00" x2="211.10" y2="548.00" stroke="#231f20" stroke-width="1.0"/>
<line x1="210.50" y1="548.00" x2="283.60" y2="548.00" stroke="#231f20" stroke-width="1.4"/>
<line x1="225.40" y1="548.00" x2="225.40" y2="551.00" stroke="#231f20" stroke-width="1.0"/>
<line x1="247.10" y1="548.00" x2="247.10" y2="551.00" stroke="#231f20" stroke-width="1.0"/>
<line x1="268.80" y1="548.00" x2="268.80" y2="551.00" stroke="#231f20" stroke-width="1.0"/>
<rect x="218.50" y="533.80" width="13.8" height="14.20" fill="#b4b4b4"/>
<rect x="240.20" y="540.50" width="13.8" height="7.50" fill="#94a3cf"/>
<rect x="261.90" y="480.00" width="13.8" height="68.00" fill="#e98a82"/>
<line x1="225.40" y1="520.30" x2="225.40" y2="535.80" stroke="#231f20" stroke-width="1.0"/>
<line x1="222.00" y1="520.30" x2="228.80" y2="520.30" stroke="#231f20" stroke-width="1.0"/>
<line x1="222.00" y1="535.80" x2="228.80" y2="535.80" stroke="#231f20" stroke-width="1.0"/>
<line x1="247.10" y1="531.50" x2="247.10" y2="542.50" stroke="#1d4683" stroke-width="1.0"/>
<line x1="243.70" y1="531.50" x2="250.50" y2="531.50" stroke="#1d4683" stroke-width="1.0"/>
<line x1="243.70" y1="542.50" x2="250.50" y2="542.50" stroke="#1d4683" stroke-width="1.0"/>
<line x1="268.80" y1="470.50" x2="268.80" y2="490.00" stroke="#c8102e" stroke-width="1.0"/>
<line x1="265.40" y1="470.50" x2="272.20" y2="470.50" stroke="#c8102e" stroke-width="1.0"/>
<line x1="265.40" y1="490.00" x2="272.20" y2="490.00" stroke="#c8102e" stroke-width="1.0"/>
<circle cx="225.40" cy="502.00" r="2.0" fill="#111"/>
<circle cx="225.40" cy="526.50" r="2.0" fill="#111"/>
<circle cx="220.00" cy="533.80" r="2.0" fill="#111"/>
<circle cx="223.10" cy="534.60" r="2.0" fill="#111"/>
<circle cx="230.80" cy="532.30" r="2.0" fill="#111"/>
<circle cx="226.90" cy="536.20" r="2.0" fill="#111"/>
<circle cx="223.80" cy="538.50" r="2.0" fill="#111"/>
<circle cx="228.50" cy="538.90" r="2.0" fill="#111"/>
<circle cx="222.30" cy="541.50" r="2.0" fill="#111"/>
<circle cx="226.90" cy="542.00" r="2.0" fill="#111"/>
<circle cx="247.40" cy="523.50" r="2.0" fill="#1d4683"/>
<circle cx="241.50" cy="531.50" r="2.0" fill="#1d4683"/>
<circle cx="246.20" cy="531.50" r="2.0" fill="#1d4683"/>
<circle cx="244.60" cy="535.80" r="2.0" fill="#1d4683"/>
<circle cx="247.70" cy="540.00" r="2.0" fill="#1d4683"/>
<circle cx="241.50" cy="542.80" r="2.0" fill="#1d4683"/>
<circle cx="246.20" cy="543.80" r="2.0" fill="#1d4683"/>
<circle cx="249.20" cy="545.40" r="2.0" fill="#1d4683"/>
<circle cx="243.10" cy="545.40" r="2.0" fill="#1d4683"/>
<circle cx="251.60" cy="544.00" r="2.0" fill="#1d4683"/>
<circle cx="267.10" cy="471.50" r="2.0" fill="#c8102e"/>
<circle cx="271.00" cy="473.50" r="2.0" fill="#c8102e"/>
<circle cx="263.30" cy="477.70" r="2.0" fill="#c8102e"/>
<circle cx="269.00" cy="477.70" r="2.0" fill="#c8102e"/>
<circle cx="273.80" cy="476.30" r="2.0" fill="#c8102e"/>
<circle cx="266.20" cy="480.60" r="2.0" fill="#c8102e"/>
<circle cx="271.90" cy="481.50" r="2.0" fill="#c8102e"/>
<circle cx="268.10" cy="483.50" r="2.0" fill="#c8102e"/>
<circle cx="271.00" cy="486.30" r="2.0" fill="#c8102e"/>
<circle cx="268.80" cy="509.70" r="2.0" fill="#c8102e"/>
<line x1="225.40" y1="451.30" x2="269.30" y2="451.30" stroke="#231f20" stroke-width="1.0"/>
<text x="247.10" y="449.90" font-size="8.0" fill="#231f20" stroke="#231f20" stroke-width="0.15" text-anchor="middle" textLength="15.0" lengthAdjust="spacingAndGlyphs">****</text>
<line x1="246.40" y1="467.10" x2="269.30" y2="467.10" stroke="#231f20" stroke-width="1.0"/>
<text x="258.95" y="465.70" font-size="8.0" fill="#231f20" stroke="#231f20" stroke-width="0.15" text-anchor="middle" textLength="15.0" lengthAdjust="spacingAndGlyphs">****</text>
<line x1="225.40" y1="487.10" x2="247.40" y2="487.10" stroke="#231f20" stroke-width="1.0"/>
<text x="236.25" y="483.60" font-size="8.5" fill="#231f20" stroke="#231f20" stroke-width="0.15" text-anchor="middle">ns</text>
<text x="249.40" y="412.40" font-size="10.0" fill="#231f20" stroke="#231f20" stroke-width="0.15" text-anchor="middle" textLength="60.9" lengthAdjust="spacingAndGlyphs">Anti-HOD IgG</text>
<text x="249.40" y="423.80" font-size="10.0" fill="#231f20" stroke="#231f20" stroke-width="0.15" text-anchor="middle" textLength="28.8" lengthAdjust="spacingAndGlyphs">Day 14</text>
<text x="0" y="0" transform="translate(227.70 561.90) rotate(-45)" font-size="9.1" fill="#231f20" stroke="#231f20" stroke-width="0.15" text-anchor="end" textLength="15.2" lengthAdjust="spacingAndGlyphs">PBS</text>
<text x="0" y="0" transform="translate(249.40 561.90) rotate(-45)" font-size="9.1" fill="#231f20" stroke="#231f20" stroke-width="0.15" text-anchor="end" textLength="33.9" lengthAdjust="spacingAndGlyphs">anti-GFP</text>
<text x="0" y="0" transform="translate(271.10 561.90) rotate(-45)" font-size="9.1" fill="#231f20" stroke="#231f20" stroke-width="0.15" text-anchor="end" textLength="40.0" lengthAdjust="spacingAndGlyphs">anti-Duffy</text>
<line x1="303.80" y1="436.60" x2="303.80" y2="488.80" stroke="#231f20" stroke-width="1.4"/>
<line x1="301.00" y1="488.80" x2="306.80" y2="488.80" stroke="#231f20" stroke-width="1.0"/>
<line x1="300.60" y1="439.40" x2="303.80" y2="439.40" stroke="#231f20" stroke-width="1.0"/>
<line x1="300.60" y1="452.80" x2="303.80" y2="452.80" stroke="#231f20" stroke-width="1.0"/>
<line x1="300.60" y1="466.20" x2="303.80" y2="466.20" stroke="#231f20" stroke-width="1.0"/>
<line x1="300.60" y1="479.50" x2="303.80" y2="479.50" stroke="#231f20" stroke-width="1.0"/>
<line x1="303.80" y1="498.30" x2="303.80" y2="548.60" stroke="#231f20" stroke-width="1.4"/>
<line x1="300.60" y1="498.30" x2="306.80" y2="498.30" stroke="#231f20" stroke-width="1.0"/>
<line x1="300.60" y1="514.60" x2="303.80" y2="514.60" stroke="#231f20" stroke-width="1.0"/>
<line x1="300.60" y1="531.30" x2="303.80" y2="531.30" stroke="#231f20" stroke-width="1.0"/>
<line x1="300.60" y1="548.00" x2="303.80" y2="548.00" stroke="#231f20" stroke-width="1.0"/>
<line x1="303.20" y1="548.00" x2="376.30" y2="548.00" stroke="#231f20" stroke-width="1.4"/>
<line x1="318.10" y1="548.00" x2="318.10" y2="551.00" stroke="#231f20" stroke-width="1.0"/>
<line x1="339.80" y1="548.00" x2="339.80" y2="551.00" stroke="#231f20" stroke-width="1.0"/>
<line x1="361.50" y1="548.00" x2="361.50" y2="551.00" stroke="#231f20" stroke-width="1.0"/>
<rect x="311.20" y="536.50" width="13.8" height="11.50" fill="#b4b4b4"/>
<rect x="332.90" y="538.80" width="13.8" height="9.20" fill="#94a3cf"/>
<rect x="354.60" y="479.20" width="13.8" height="68.80" fill="#e98a82"/>
<line x1="318.10" y1="521.90" x2="318.10" y2="538.50" stroke="#231f20" stroke-width="1.0"/>
<line x1="314.70" y1="521.90" x2="321.50" y2="521.90" stroke="#231f20" stroke-width="1.0"/>
<line x1="314.70" y1="538.50" x2="321.50" y2="538.50" stroke="#231f20" stroke-width="1.0"/>
<line x1="339.80" y1="530.00" x2="339.80" y2="540.80" stroke="#1d4683" stroke-width="1.0"/>
<line x1="336.40" y1="530.00" x2="343.20" y2="530.00" stroke="#1d4683" stroke-width="1.0"/>
<line x1="336.40" y1="540.80" x2="343.20" y2="540.80" stroke="#1d4683" stroke-width="1.0"/>
<line x1="361.50" y1="471.50" x2="361.50" y2="486.50" stroke="#c8102e" stroke-width="1.0"/>
<line x1="358.10" y1="471.50" x2="364.90" y2="471.50" stroke="#c8102e" stroke-width="1.0"/>
<line x1="358.10" y1="486.50" x2="364.90" y2="486.50" stroke="#c8102e" stroke-width="1.0"/>
<circle cx="318.10" cy="499.80" r="2.0" fill="#111"/>
<circle cx="318.10" cy="530.80" r="2.0" fill="#111"/>
<circle cx="312.60" cy="536.90" r="2.0" fill="#111"/>
<circle cx="316.40" cy="537.90" r="2.0" fill="#111"/>
<circle cx="323.20" cy="537.90" r="2.0" fill="#111"/>
<circle cx="314.50" cy="540.40" r="2.0" fill="#111"/>
<circle cx="320.30" cy="540.40" r="2.0" fill="#111"/>
<circle cx="318.10" cy="542.70" r="2.0" fill="#111"/>
<circle cx="313.10" cy="542.00" r="2.0" fill="#111"/>
<circle cx="322.10" cy="541.00" r="2.0" fill="#111"/>
<circle cx="340.00" cy="529.60" r="2.0" fill="#1d4683"/>
<circle cx="338.60" cy="535.60" r="2.0" fill="#1d4683"/>
<circle cx="342.50" cy="536.50" r="2.0" fill="#1d4683"/>
<circle cx="334.80" cy="539.20" r="2.0" fill="#1d4683"/>
<circle cx="340.60" cy="540.80" r="2.0" fill="#1d4683"/>
<circle cx="336.70" cy="542.70" r="2.0" fill="#1d4683"/>
<circle cx="344.40" cy="542.70" r="2.0" fill="#1d4683"/>
<circle cx="338.60" cy="544.60" r="2.0" fill="#1d4683"/>
<circle cx="335.80" cy="545.60" r="2.0" fill="#1d4683"/>
<circle cx="342.50" cy="546.20" r="2.0" fill="#1d4683"/>
<circle cx="357.70" cy="471.90" r="2.0" fill="#c8102e"/>
<circle cx="361.50" cy="473.50" r="2.0" fill="#c8102e"/>
<circle cx="355.70" cy="475.00" r="2.0" fill="#c8102e"/>
<circle cx="366.30" cy="475.80" r="2.0" fill="#c8102e"/>
<circle cx="358.60" cy="478.30" r="2.0" fill="#c8102e"/>
<circle cx="363.40" cy="478.30" r="2.0" fill="#c8102e"/>
<circle cx="356.70" cy="479.60" r="2.0" fill="#c8102e"/>
<circle cx="367.30" cy="479.20" r="2.0" fill="#c8102e"/>
<circle cx="360.60" cy="482.10" r="2.0" fill="#c8102e"/>
<circle cx="365.40" cy="484.00" r="2.0" fill="#c8102e"/>
<circle cx="358.60" cy="485.00" r="2.0" fill="#c8102e"/>
<line x1="318.10" y1="451.50" x2="364.50" y2="451.50" stroke="#231f20" stroke-width="1.0"/>
<text x="339.80" y="450.10" font-size="8.0" fill="#231f20" stroke="#231f20" stroke-width="0.15" text-anchor="middle" textLength="15.0" lengthAdjust="spacingAndGlyphs">****</text>
<line x1="339.10" y1="467.30" x2="362.00" y2="467.30" stroke="#231f20" stroke-width="1.0"/>
<text x="351.65" y="465.90" font-size="8.0" fill="#231f20" stroke="#231f20" stroke-width="0.15" text-anchor="middle" textLength="15.0" lengthAdjust="spacingAndGlyphs">****</text>
<line x1="318.10" y1="487.10" x2="340.10" y2="487.10" stroke="#231f20" stroke-width="1.0"/>
<text x="328.95" y="483.60" font-size="8.5" fill="#231f20" stroke="#231f20" stroke-width="0.15" text-anchor="middle">ns</text>
<text x="342.90" y="412.40" font-size="10.0" fill="#231f20" stroke="#231f20" stroke-width="0.15" text-anchor="middle" textLength="60.9" lengthAdjust="spacingAndGlyphs">Anti-HOD IgG</text>
<text x="342.90" y="423.80" font-size="10.0" fill="#231f20" stroke="#231f20" stroke-width="0.15" text-anchor="middle" textLength="28.8" lengthAdjust="spacingAndGlyphs">Day 21</text>
<text x="0" y="0" transform="translate(320.40 561.90) rotate(-45)" font-size="9.1" fill="#231f20" stroke="#231f20" stroke-width="0.15" text-anchor="end" textLength="15.2" lengthAdjust="spacingAndGlyphs">PBS</text>
<text x="0" y="0" transform="translate(342.10 561.90) rotate(-45)" font-size="9.1" fill="#231f20" stroke="#231f20" stroke-width="0.15" text-anchor="end" textLength="33.9" lengthAdjust="spacingAndGlyphs">anti-GFP</text>
<text x="0" y="0" transform="translate(363.80 561.90) rotate(-45)" font-size="9.1" fill="#231f20" stroke="#231f20" stroke-width="0.15" text-anchor="end" textLength="40.0" lengthAdjust="spacingAndGlyphs">anti-Duffy</text>
<line x1="397.20" y1="436.60" x2="397.20" y2="488.80" stroke="#231f20" stroke-width="1.4"/>
<line x1="394.40" y1="488.80" x2="400.20" y2="488.80" stroke="#231f20" stroke-width="1.0"/>
<line x1="394.00" y1="439.40" x2="397.20" y2="439.40" stroke="#231f20" stroke-width="1.0"/>
<line x1="394.00" y1="452.80" x2="397.20" y2="452.80" stroke="#231f20" stroke-width="1.0"/>
<line x1="394.00" y1="466.20" x2="397.20" y2="466.20" stroke="#231f20" stroke-width="1.0"/>
<line x1="394.00" y1="479.50" x2="397.20" y2="479.50" stroke="#231f20" stroke-width="1.0"/>
<line x1="397.20" y1="498.30" x2="397.20" y2="548.60" stroke="#231f20" stroke-width="1.4"/>
<line x1="394.00" y1="498.30" x2="400.20" y2="498.30" stroke="#231f20" stroke-width="1.0"/>
<line x1="394.00" y1="514.60" x2="397.20" y2="514.60" stroke="#231f20" stroke-width="1.0"/>
<line x1="394.00" y1="531.30" x2="397.20" y2="531.30" stroke="#231f20" stroke-width="1.0"/>
<line x1="394.00" y1="548.00" x2="397.20" y2="548.00" stroke="#231f20" stroke-width="1.0"/>
<line x1="396.60" y1="548.00" x2="469.70" y2="548.00" stroke="#231f20" stroke-width="1.4"/>
<line x1="411.50" y1="548.00" x2="411.50" y2="551.00" stroke="#231f20" stroke-width="1.0"/>
<line x1="433.20" y1="548.00" x2="433.20" y2="551.00" stroke="#231f20" stroke-width="1.0"/>
<line x1="454.90" y1="548.00" x2="454.90" y2="551.00" stroke="#231f20" stroke-width="1.0"/>
<rect x="404.60" y="537.90" width="13.8" height="10.10" fill="#b4b4b4"/>
<rect x="426.30" y="541.70" width="13.8" height="6.30" fill="#94a3cf"/>
<rect x="448.00" y="481.20" width="13.8" height="66.80" fill="#e98a82"/>
<line x1="411.50" y1="527.70" x2="411.50" y2="539.90" stroke="#231f20" stroke-width="1.0"/>
<line x1="408.10" y1="527.70" x2="414.90" y2="527.70" stroke="#231f20" stroke-width="1.0"/>
<line x1="408.10" y1="539.90" x2="414.90" y2="539.90" stroke="#231f20" stroke-width="1.0"/>
<line x1="433.20" y1="533.00" x2="433.20" y2="543.70" stroke="#1d4683" stroke-width="1.0"/>
<line x1="429.80" y1="533.00" x2="436.60" y2="533.00" stroke="#1d4683" stroke-width="1.0"/>
<line x1="429.80" y1="543.70" x2="436.60" y2="543.70" stroke="#1d4683" stroke-width="1.0"/>
<line x1="454.90" y1="470.00" x2="454.90" y2="489.00" stroke="#c8102e" stroke-width="1.0"/>
<line x1="451.50" y1="470.00" x2="458.30" y2="470.00" stroke="#c8102e" stroke-width="1.0"/>
<line x1="451.50" y1="489.00" x2="458.30" y2="489.00" stroke="#c8102e" stroke-width="1.0"/>
<circle cx="411.70" cy="511.50" r="2.0" fill="#111"/>
<circle cx="408.80" cy="534.00" r="2.0" fill="#111"/>
<circle cx="405.00" cy="537.90" r="2.0" fill="#111"/>
<circle cx="410.80" cy="537.00" r="2.0" fill="#111"/>
<circle cx="416.50" cy="538.80" r="2.0" fill="#111"/>
<circle cx="406.90" cy="542.70" r="2.0" fill="#111"/>
<circle cx="411.70" cy="540.80" r="2.0" fill="#111"/>
<circle cx="416.50" cy="543.70" r="2.0" fill="#111"/>
<circle cx="408.80" cy="544.60" r="2.0" fill="#111"/>
<circle cx="413.00" cy="545.00" r="2.0" fill="#111"/>
<circle cx="432.80" cy="526.90" r="2.0" fill="#1d4683"/>
<circle cx="430.80" cy="533.10" r="2.0" fill="#1d4683"/>
<circle cx="434.10" cy="533.10" r="2.0" fill="#1d4683"/>
<circle cx="432.80" cy="536.90" r="2.0" fill="#1d4683"/>
<circle cx="427.40" cy="541.70" r="2.0" fill="#1d4683"/>
<circle cx="438.00" cy="541.70" r="2.0" fill="#1d4683"/>
<circle cx="431.20" cy="542.70" r="2.0" fill="#1d4683"/>
<circle cx="428.30" cy="545.60" r="2.0" fill="#1d4683"/>
<circle cx="435.10" cy="544.60" r="2.0" fill="#1d4683"/>
<circle cx="426.40" cy="547.00" r="2.0" fill="#1d4683"/>
<circle cx="454.70" cy="469.60" r="2.0" fill="#c8102e"/>
<circle cx="451.40" cy="473.10" r="2.0" fill="#c8102e"/>
<circle cx="457.20" cy="473.10" r="2.0" fill="#c8102e"/>
<circle cx="448.90" cy="477.70" r="2.0" fill="#c8102e"/>
<circle cx="454.30" cy="477.30" r="2.0" fill="#c8102e"/>
<circle cx="460.10" cy="479.20" r="2.0" fill="#c8102e"/>
<circle cx="451.40" cy="481.20" r="2.0" fill="#c8102e"/>
<circle cx="457.20" cy="482.10" r="2.0" fill="#c8102e"/>
<circle cx="452.40" cy="484.00" r="2.0" fill="#c8102e"/>
<circle cx="456.20" cy="485.00" r="2.0" fill="#c8102e"/>
<circle cx="454.70" cy="488.80" r="2.0" fill="#c8102e"/>
<line x1="411.50" y1="450.00" x2="455.40" y2="450.00" stroke="#231f20" stroke-width="1.0"/>
<text x="433.20" y="448.60" font-size="8.0" fill="#231f20" stroke="#231f20" stroke-width="0.15" text-anchor="middle" textLength="15.0" lengthAdjust="spacingAndGlyphs">****</text>
<line x1="432.50" y1="463.50" x2="455.40" y2="463.50" stroke="#231f20" stroke-width="1.0"/>
<text x="445.05" y="462.10" font-size="8.0" fill="#231f20" stroke="#231f20" stroke-width="0.15" text-anchor="middle" textLength="15.0" lengthAdjust="spacingAndGlyphs">****</text>
<line x1="411.50" y1="487.10" x2="433.50" y2="487.10" stroke="#231f20" stroke-width="1.0"/>
<text x="422.35" y="483.60" font-size="8.5" fill="#231f20" stroke="#231f20" stroke-width="0.15" text-anchor="middle">ns</text>
<text x="435.70" y="412.40" font-size="10.0" fill="#231f20" stroke="#231f20" stroke-width="0.15" text-anchor="middle" textLength="60.9" lengthAdjust="spacingAndGlyphs">Anti-HOD IgG</text>
<text x="435.70" y="423.80" font-size="10.0" fill="#231f20" stroke="#231f20" stroke-width="0.15" text-anchor="middle" textLength="28.8" lengthAdjust="spacingAndGlyphs">Day 28</text>
<text x="0" y="0" transform="translate(413.80 561.90) rotate(-45)" font-size="9.1" fill="#231f20" stroke="#231f20" stroke-width="0.15" text-anchor="end" textLength="15.2" lengthAdjust="spacingAndGlyphs">PBS</text>
<text x="0" y="0" transform="translate(435.50 561.90) rotate(-45)" font-size="9.1" fill="#231f20" stroke="#231f20" stroke-width="0.15" text-anchor="end" textLength="33.9" lengthAdjust="spacingAndGlyphs">anti-GFP</text>
<text x="0" y="0" transform="translate(457.20 561.90) rotate(-45)" font-size="9.1" fill="#231f20" stroke="#231f20" stroke-width="0.15" text-anchor="end" textLength="40.0" lengthAdjust="spacingAndGlyphs">anti-Duffy</text>
</svg>
</body></html>
